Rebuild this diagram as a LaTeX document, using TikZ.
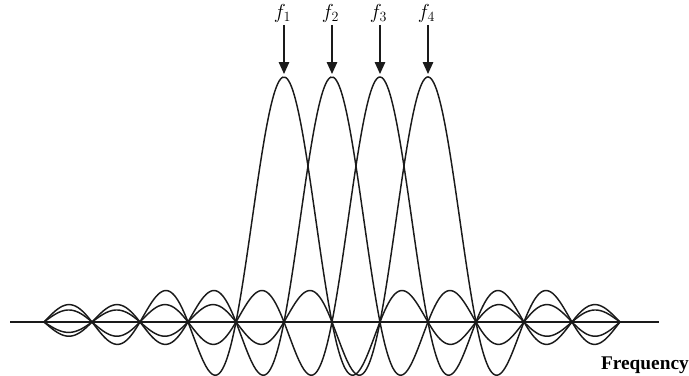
\documentclass[tikz,border=0pt]{standalone}
\usepackage{fontspec}
\setmainfont{Liberation Serif}
\usetikzlibrary{arrows.meta,positioning}
\definecolor{SpecBlack}{HTML}{1A1A1A}

\begin{document}
\begin{tikzpicture}[x=1.44cm, y=7.35cm]
\useasboundingbox (-5.917, -0.2204) rectangle (8.4375, 1.3143);

% Draw frequency axis
\coordinate (axisL) at (-5.708, 0);
\coordinate (axisR) at (7.81, 0);
\draw[line width=1.6pt, SpecBlack] (axisL) -- (axisR);

% Subcarrier spectra - one sinc per carrier
\foreach \i in {0,...,3}
{
  \draw[line width=1.25pt, SpecBlack, smooth] plot[domain=-5:7, samples=481]
    (\x, {sin(180*(\x-\i+0.0007))/(pi*(\x-\i+0.0007))});
}

% Carrier arrows and labels
\foreach \i/\lab in {0/1, 1/2, 2/3, 3/4}
{
  \coordinate (peak\lab) at (\i, 1.012);
  \node[font=\fontsize{17}{19}\selectfont, inner sep=1pt] (f\lab) at (\i-0.03, 1.258) {$f_{\lab}$};
  \draw[line width=1.5pt, SpecBlack, -{Triangle[length=3.6mm, width=3.1mm]}]
    (f\lab.south -| peak\lab) ++(0,-0.003) -- (peak\lab);
}

% Axis label
\node[anchor=base east, inner sep=0pt, font=\fontsize{16.5}{19}\selectfont\bfseries] (freq) at (8.437, -0.193) {Frequency};
\end{tikzpicture}
\end{document}
